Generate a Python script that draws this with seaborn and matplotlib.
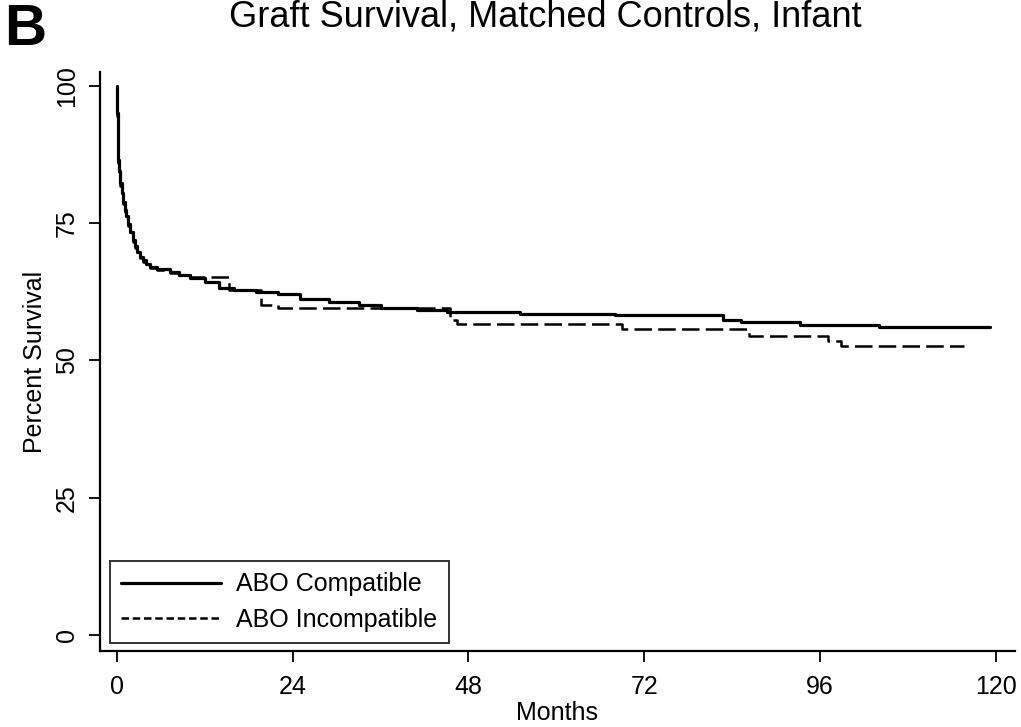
import numpy as np
import pandas as pd
import matplotlib
matplotlib.use("Agg")
import matplotlib.pyplot as plt
import seaborn as sns

# ---------------------------------------------------------------------------
# Data
# ---------------------------------------------------------------------------

compat_months = [0, 0.05, 0.1, 0.18, 0.3, 0.45, 0.64, 0.85, 1.05, 1.3, 1.55,
                 1.85, 2.2, 2.5, 2.8, 3.1, 3.5, 4.0, 4.5, 5.5, 7.2, 8.5, 10,
                 12, 14, 16, 19, 22, 25, 29, 33, 36, 41, 45, 55, 68, 82.7,
                 85.2, 93.2, 104.1, 119.2]
compat_surv = [100, 95, 91, 86.5, 84.5, 82.3, 80.5, 78.8, 77.4, 76.2, 74.8,
               73.3, 71.9, 70.8, 69.8, 68.9, 68.2, 67.6, 67.0, 66.7, 66.1,
               65.6, 65.0, 64.2, 63.2, 62.8, 62.4, 62, 61.2, 60.6, 60, 59.6,
               59.2, 58.8, 58.5, 58.3, 57.4, 56.9, 56.5, 56.0, 56.0]

incompat_months = [0, 0.05, 0.1, 0.18, 0.3, 0.45, 0.64, 0.85, 1.05, 1.3, 1.55,
                   1.85, 2.2, 2.5, 2.8, 3.1, 3.5, 4.0, 4.5, 5.5, 7.2, 8.5, 10,
                   15.3, 19.7, 22, 45.5, 46.5, 69, 86.3, 97.1, 98.8, 115.6]
incompat_surv = [100, 94.5, 90.5, 86, 84, 81.8, 80, 78.4, 77, 75.8, 74.4,
                 72.9, 71.5, 70.4, 69.4, 68.6, 67.9, 67.3, 66.8, 66.4, 65.9,
                 65.5, 65.2, 62.8, 60.0, 59.6, 57.3, 56.7, 55.7, 54.4, 53.5,
                 52.7, 52.7]

series_labels = ["ABO Compatible", "ABO Incompatible"]
x_ticks = [0, 24, 48, 72, 96, 120]
y_ticks = [0, 25, 50, 75, 100]

df = pd.concat([
    pd.DataFrame({"months": compat_months, "surv": compat_surv, "group": series_labels[0]}),
    pd.DataFrame({"months": incompat_months, "surv": incompat_surv, "group": series_labels[1]}),
], ignore_index=True)

# ---------------------------------------------------------------------------
# Plot
# ---------------------------------------------------------------------------

sns.set_style("ticks")
plt.rcParams["font.family"] = ["Liberation Sans", "DejaVu Sans"]
plt.rcParams["text.color"] = "black"
plt.rcParams["axes.labelcolor"] = "black"
plt.rcParams["xtick.color"] = "black"
plt.rcParams["ytick.color"] = "black"

fig = plt.figure(figsize=(10.21, 7.27), dpi=100)
ax = fig.add_axes([0.098, 0.1045, 0.896, 0.7965])

sns.lineplot(data=df[df["group"] == series_labels[0]], x="months", y="surv",
             ax=ax, color="black", linewidth=2.3, drawstyle="steps-post",
             estimator=None, label=series_labels[0])
sns.lineplot(data=df[df["group"] == series_labels[1]], x="months", y="surv",
             ax=ax, color="black", linewidth=1.8, drawstyle="steps-post",
             estimator=None, dashes=False, label=series_labels[1])
ax.lines[1].set_dashes([7, 2.5])

ax.set_xlim(-2.3, 122.6)
ax.set_ylim(-2.9, 102.5)
ax.set_xticks(x_ticks)
ax.set_yticks(y_ticks)
ax.tick_params(axis="both", direction="out", length=8, width=1.3,
               labelsize=18, color="black", labelcolor="black")
ax.tick_params(axis="x", pad=9)
ax.tick_params(axis="y", pad=7)
for lbl in ax.get_yticklabels():
    lbl.set_rotation(90)
    lbl.set_va("center")

ax.set_xlabel("Months", fontsize=18, labelpad=2, color="black")
ax.set_ylabel("Percent Survival", fontsize=18, labelpad=6, color="black")

sns.despine(ax=ax)
for side in ["left", "bottom"]:
    ax.spines[side].set_linewidth(1.6)
    ax.spines[side].set_color("black")

leg = ax.legend(loc="lower left", bbox_to_anchor=(0.011, 0.014), borderaxespad=0,
                fontsize=18, frameon=True, fancybox=False, edgecolor="black",
                handlelength=4, handletextpad=0.6, labelspacing=0.45,
                borderpad=0.45)
leg.get_frame().set_linewidth(1.4)
leg.legend_handles[1].set_dashes([3, 1.5])
for t in leg.get_texts():
    t.set_color("black")

fig.text(0.534, 0.963, "Graft Survival, Matched Controls, Infant",
         ha="center", va="baseline", fontsize=26, color="black")
fig.text(0.004, 0.938, "B", ha="left", va="baseline", fontsize=42,
         fontweight="bold", color="black")

fig.savefig("out.png", dpi=100, facecolor="white")
